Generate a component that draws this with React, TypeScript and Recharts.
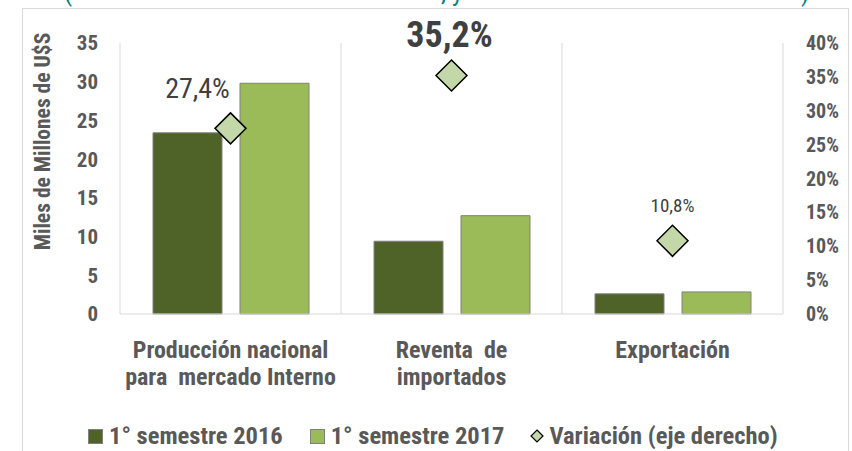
import React from 'react'
import { ComposedChart, Bar, Line, XAxis, YAxis, CartesianGrid, LabelList } from 'recharts'

const FONT = "'Roboto Condensed', 'Liberation Sans Narrow', 'DejaVu Sans Condensed', Roboto, sans-serif"

const categoryLines = [
  ['Producción nacional', 'para  mercado Interno'],
  ['Reventa  de', 'importados'],
  ['Exportación'],
]
const sem2016 = [23.4, 9.4, 2.6]
const sem2017 = [29.8, 12.7, 2.85]
const variacion = [0.274, 0.352, 0.108]
const variacionLabels = ['27,4%', '35,2%', '10,8%']
const leftTicks = [0, 5, 10, 15, 20, 25, 30, 35]
const rightTicks = [0, 0.05, 0.1, 0.15, 0.2, 0.25, 0.3, 0.35, 0.4]

const data = categoryLines.map((lines, i) => ({
  name: lines.join(' '),
  s2016: sem2016[i],
  s2017: sem2017[i],
  variacion: variacion[i],
}))

const DARK = '#4f6228'
const LIGHT = '#9bbb59'
const DIAMOND = '#c4d7a9'
const TEXT = '#595959'

// label look per point (size, weight, offset from the diamond)
const labelStyles = [
  { size: 28, weight: 'normal', dx: -33, dy: -30 },
  { size: 36, weight: 'bold', dx: -2, dy: -29 },
  { size: 19, weight: 'normal', dx: 0, dy: -29 },
]

const CategoryTick = (props: any) => {
  const { x, y, index } = props
  const lines = categoryLines[index] || []
  return (
    <text x={x} y={y} textAnchor="middle" fill={TEXT} fontSize={24} fontWeight="bold" style={{ whiteSpace: 'pre' }}>
      {lines.map((l, i) => (
        <tspan key={i} x={x} dy={i === 0 ? 44 : 27}>
          {l}
        </tspan>
      ))}
    </text>
  )
}

const DiamondDot = (props: any) => {
  const { cx, cy, index } = props
  const r = 15.5
  return (
    <path
      key={'d' + index}
      d={`M${cx},${cy - r}L${cx + r},${cy}L${cx},${cy + r}L${cx - r},${cy}Z`}
      fill={DIAMOND}
      stroke="#000"
      strokeWidth={1.5}
    />
  )
}

const VarLabel = (props: any) => {
  const { x, y, index } = props
  const s = labelStyles[index]
  return (
    <text
      x={x + s.dx}
      y={y + s.dy}
      textAnchor="middle"
      fill="#404040"
      fontSize={s.size}
      fontWeight={s.weight}
    >
      {variacionLabels[index]}
    </text>
  )
}

const AxisTitle = (props: any) => {
  const { viewBox } = props
  const cx = viewBox.x + 42
  const cy = viewBox.y + viewBox.height / 2 - 37
  return (
    <text
      x={cx}
      y={cy}
      transform={`rotate(-90, ${cx}, ${cy})`}
      textAnchor="middle"
      dominantBaseline="central"
      fill={TEXT}
      fontSize={21.5}
      fontWeight="bold"
    >
      Miles de Millones de U$S
    </text>
  )
}

export default function App() {
  return (
    <div style={{ position: 'absolute', left: 0, top: 0, width: 852, height: 451, overflow: 'hidden', background: '#fff', fontFamily: FONT }}>
      <div style={{ position: 'absolute', top: -23, left: 0, width: 852, height: 30, color: '#00807f', fontSize: 26 }}>
        <span style={{ position: 'absolute', left: 64 }}>(</span>
        <span style={{ position: 'absolute', left: 441 }}>, y</span>
        <span style={{ position: 'absolute', left: 801 }}>)</span>
      </div>
      <div style={{ position: 'absolute', left: 22, top: 8, width: 825, height: 460, border: '1px solid #d9d9d9' }} />
      <ComposedChart
        width={852}
        height={451}
        data={data}
        margin={{ top: 43, right: 0, bottom: 0, left: 0 }}
        barCategoryGap={33}
        barGap={18}
        style={{ position: 'absolute', left: 0, top: 0, fontFamily: FONT }}
      >
        <CartesianGrid
          horizontal={false}
          stroke="#d9d9d9"
          verticalCoordinatesGenerator={({ offset }: any) =>
            [0, 1, 2, 3].map((i) => offset.left + (i * offset.width) / 3)
          }
        />
        <XAxis
          dataKey="name"
          height={137}
          axisLine={{ stroke: '#d9d9d9' }}
          tickLine={false}
          tickSize={0}
          tickMargin={0}
          tick={<CategoryTick />}
          interval={0}
        />
        <YAxis
          yAxisId="left"
          width={120}
          domain={[0, 35]}
          ticks={leftTicks}
          axisLine={false}
          tickLine={false}
          tickSize={0}
          tickMargin={22}
          tick={{ fill: TEXT, fontSize: 21, fontWeight: 'bold' }}
          label={<AxisTitle />}
        />
        <YAxis
          yAxisId="right"
          orientation="right"
          width={69}
          domain={[0, 0.4]}
          ticks={rightTicks}
          axisLine={false}
          tickLine={false}
          tickSize={0}
          tickMargin={23}
          tickFormatter={(v: number) => `${Math.round(v * 100)}%`}
          tick={{ fill: TEXT, fontSize: 20, fontWeight: 'bold', textAnchor: 'start' }}
        />
        <Bar yAxisId="left" dataKey="s2016" name="1° semestre 2016" fill={DARK} stroke="#808080" strokeWidth={1} isAnimationActive={false} />
        <Bar yAxisId="left" dataKey="s2017" name="1° semestre 2017" fill={LIGHT} stroke="#808080" strokeWidth={1} isAnimationActive={false} />
        <Line
          yAxisId="right"
          dataKey="variacion"
          name="Variación (eje derecho)"
          stroke="none"
          dot={<DiamondDot />}
          activeDot={false}
          isAnimationActive={false}
        >
          <LabelList dataKey="variacion" content={<VarLabel />} />
        </Line>
      </ComposedChart>
      <div
        style={{
          position: 'absolute',
          top: 422,
          left: 88,
          display: 'flex',
          alignItems: 'center',
          color: TEXT,
          fontSize: 24.5,
          fontWeight: 'bold',
          whiteSpace: 'nowrap',
          lineHeight: '28px',
        }}
      >
        <span style={{ display: 'inline-block', width: 13, height: 13, background: DARK, border: '1px solid #808080', marginRight: 6 }} />
        <span style={{ marginRight: 27 }}>1° semestre 2016</span>
        <span style={{ display: 'inline-block', width: 13, height: 13, background: LIGHT, border: '1px solid #808080', marginRight: 6 }} />
        <span style={{ marginRight: 26 }}>1° semestre 2017</span>
        <svg width={14} height={14} style={{ marginRight: 5 }}>
          <path d="M7,1L13,7L7,13L1,7Z" fill={DIAMOND} stroke="#000" strokeWidth={1.2} />
        </svg>
        <span>Variación (eje derecho)</span>
      </div>
    </div>
  )
}
